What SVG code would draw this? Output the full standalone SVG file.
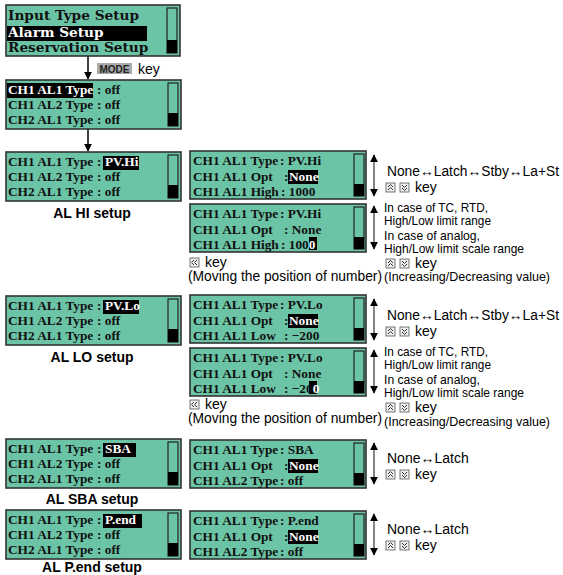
<svg xmlns="http://www.w3.org/2000/svg" width="563" height="575" viewBox="0 0 563 575">
<style>
.box{fill:#6cc4a7;stroke:#333;stroke-width:1.6}
.sb{fill:#6cc4a7;stroke:#222;stroke-width:1.2}
.sbk{fill:#000}
.lcd{font-family:"Liberation Serif",serif;font-weight:bold;font-size:13.3px;fill:#111}
.lcdt{font-family:"DejaVu Serif",serif;font-weight:bold;font-size:13.7px;fill:#111}
.hl{fill:#000}
.w{fill:#fff}
.lbl{font-family:"Liberation Sans",Arial,sans-serif;font-weight:bold;font-size:14px;fill:#000;text-anchor:middle}
.ann{font-family:"Liberation Sans",Arial,sans-serif;font-size:14px;fill:#000}
.ann2{font-family:"Liberation Sans",Arial,sans-serif;font-size:13.5px;fill:#000}
.conn{stroke:#000;stroke-width:1.5;fill:none}
.va{stroke:#666;stroke-width:1.6}
.ico{fill:#eee;stroke:#555;stroke-width:0.8}
.chev{fill:none;stroke:#333;stroke-width:1}
</style>
<defs>
<marker id="ah" viewBox="0 0 10 10" refX="9" refY="5" markerWidth="8" markerHeight="8" markerUnits="userSpaceOnUse" orient="auto">
<path d="M0,0 L10,5 L0,10 z" fill="#000"/>
</marker>
<marker id="vh" viewBox="0 0 10 10" refX="9" refY="5" markerWidth="8" markerHeight="9" markerUnits="userSpaceOnUse" orient="auto-start-reverse">
<path d="M0,0 L10,5 L0,10 z" fill="#000"/>
</marker>
<g id="up">
<rect class="ico" x="0" y="0" width="9" height="9"/>
<polyline class="chev" points="2,4 4.5,1.5 7,4"/>
<polyline class="chev" points="2,7 4.5,4.5 7,7"/>
</g>
<g id="dn">
<rect class="ico" x="0" y="0" width="9" height="9"/>
<polyline class="chev" points="2,2 4.5,4.5 7,2"/>
<polyline class="chev" points="2,5 4.5,7.5 7,5"/>
</g>
<g id="lf">
<rect class="ico" x="0" y="0" width="9" height="9"/>
<polyline class="chev" points="4,2 1.5,4.5 4,7"/>
<polyline class="chev" points="7,2 4.5,4.5 7,7"/>
</g>
</defs>

<g id="connectors">
<line class="conn" x1="88" y1="56" x2="88" y2="79" marker-end="url(#ah)"/>
<line class="conn" x1="88" y1="129" x2="88" y2="151" marker-end="url(#ah)"/>
</g>

<g id="menu-box">
<rect class="box" x="6" y="5" width="174" height="51"/>
<rect class="hl" x="7" y="26" width="140" height="15"/>
<rect class="sb" x="167" y="8" width="10" height="45"/>
<rect class="sbk" x="167" y="40" width="10" height="13"/>
<text class="lcdt" x="8" y="20">Input Type Setup</text>
<text class="lcdt w" x="8" y="37">Alarm Setup</text>
<text class="lcdt" x="8" y="52">Reservation Setup</text>
</g>

<g id="mode-key">
<rect x="97" y="63" width="35" height="11" fill="#aaa"/>
<text x="114.5" y="72.5" text-anchor="middle" font-family="Liberation Sans,Arial,sans-serif" font-weight="bold" font-size="10" fill="#222">MODE</text>
<text class="ann" x="138" y="74">key</text>
</g>

<g id="type-box">
<rect class="box" x="6" y="80" width="175" height="49"/>
<rect class="hl" x="7" y="83" width="86" height="15"/>
<rect class="sb" x="168" y="83" width="10" height="43"/>
<rect class="sbk" x="168" y="113" width="10" height="13"/>
<text class="lcd" x="8" y="94"><tspan class="w">CH1 AL1 Type</tspan><tspan x="97">: off</tspan></text>
<text class="lcd" x="8" y="109">CH1 AL2 Type<tspan x="97">: off</tspan></text>
<text class="lcd" x="8" y="124">CH2 AL1 Type<tspan x="97">: off</tspan></text>
</g>

<!-- AL HI -->
<g id="hi-box">
<rect class="box" x="6" y="152" width="175" height="49"/>
<rect class="hl" x="103" y="156" width="36" height="14"/>
<rect class="sb" x="168" y="155" width="10" height="43"/>
<rect class="sbk" x="168" y="185" width="10" height="13"/>
<text class="lcd" x="8" y="166">CH1 AL1 Type<tspan x="97">:</tspan><tspan class="w" x="105">PV.Hi</tspan></text>
<text class="lcd" x="8" y="181">CH1 AL2 Type<tspan x="97">: off</tspan></text>
<text class="lcd" x="8" y="196">CH2 AL1 Type<tspan x="97">: off</tspan></text>
<text class="lbl" x="92" y="218">AL HI setup</text>
</g>
<g id="hi-opt">
<rect class="box" x="190" y="151" width="176" height="48"/>
<rect class="hl" x="288" y="170" width="30" height="14"/>
<rect class="sb" x="354" y="154" width="10" height="42"/>
<rect class="sbk" x="354" y="184" width="10" height="12"/>
<text class="lcd" x="193" y="165">CH1 AL1 Type<tspan x="280">: PV.Hi</tspan></text>
<text class="lcd" x="193" y="181">CH1 AL1 Opt<tspan x="284">:</tspan><tspan class="w" x="289">None</tspan></text>
<text class="lcd" x="193" y="196">CH1 AL1 High<tspan x="281">: 1000</tspan></text>
</g>
<g id="hi-val">
<rect class="box" x="190" y="204" width="176" height="48"/>
<rect class="hl" x="309" y="237" width="8" height="13"/>
<rect class="sb" x="354" y="207" width="10" height="42"/>
<rect class="sbk" x="354" y="237" width="10" height="12"/>
<text class="lcd" x="193" y="218">CH1 AL1 Type<tspan x="280">: PV.Hi</tspan></text>
<text class="lcd" x="193" y="234">CH1 AL1 Opt<tspan x="284">: None</tspan></text>
<text class="lcd" x="193" y="249">CH1 AL1 High<tspan x="281">: 100</tspan><tspan class="w">0</tspan></text>
</g>
<g id="hi-notes">
<line class="va" x1="374" y1="155" x2="374" y2="196" marker-start="url(#vh)" marker-end="url(#vh)"/>
<line class="va" x1="374" y1="206" x2="374" y2="249" marker-start="url(#vh)" marker-end="url(#vh)"/>
<text class="ann" x="387" y="176" textLength="172" lengthAdjust="spacingAndGlyphs">None↔Latch↔Stby↔La+St</text>
<use href="#up" x="386" y="183"/><use href="#dn" x="400" y="183"/>
<text class="ann" x="415" y="192">key</text>
<text class="ann2" x="384" y="212" textLength="104" lengthAdjust="spacingAndGlyphs">In case of TC, RTD,</text>
<text class="ann2" x="384" y="225" textLength="107" lengthAdjust="spacingAndGlyphs">High/Low limit range</text>
<text class="ann2" x="384" y="240" textLength="96" lengthAdjust="spacingAndGlyphs">In case of analog,</text>
<text class="ann2" x="384" y="253" textLength="140" lengthAdjust="spacingAndGlyphs">High/Low limit scale range</text>
<use href="#up" x="386" y="259"/><use href="#dn" x="400" y="259"/>
<text class="ann" x="415" y="268">key</text>
<text class="ann2" x="384" y="281" textLength="166" lengthAdjust="spacingAndGlyphs">(Increasing/Decreasing value)</text>
<use href="#lf" x="190" y="258"/>
<text class="ann" x="205" y="267">key</text>
<text class="ann" x="188" y="281" textLength="194" lengthAdjust="spacingAndGlyphs">(Moving the position of number)</text>
</g>

<!-- AL LO -->
<g id="lo-box">
<rect class="box" x="6" y="296" width="175" height="49"/>
<rect class="hl" x="103" y="300" width="36" height="14"/>
<rect class="sb" x="168" y="299" width="10" height="43"/>
<rect class="sbk" x="168" y="329" width="10" height="13"/>
<text class="lcd" x="8" y="310">CH1 AL1 Type<tspan x="97">:</tspan><tspan class="w" x="105">PV.Lo</tspan></text>
<text class="lcd" x="8" y="325">CH1 AL2 Type<tspan x="97">: off</tspan></text>
<text class="lcd" x="8" y="340">CH2 AL1 Type<tspan x="97">: off</tspan></text>
<text class="lbl" x="92" y="362">AL LO setup</text>
</g>
<g id="lo-opt">
<rect class="box" x="190" y="295" width="176" height="48"/>
<rect class="hl" x="288" y="314" width="30" height="14"/>
<rect class="sb" x="354" y="298" width="10" height="42"/>
<rect class="sbk" x="354" y="328" width="10" height="12"/>
<text class="lcd" x="193" y="309">CH1 AL1 Type<tspan x="280">: PV.Lo</tspan></text>
<text class="lcd" x="193" y="325">CH1 AL1 Opt<tspan x="284">:</tspan><tspan class="w" x="289">None</tspan></text>
<text class="lcd" x="193" y="340">CH1 AL1 Low<tspan x="284">: −200</tspan></text>
</g>
<g id="lo-val">
<rect class="box" x="190" y="348" width="176" height="48"/>
<rect class="hl" x="309" y="381" width="8" height="13"/>
<rect class="sb" x="354" y="351" width="10" height="42"/>
<rect class="sbk" x="354" y="381" width="10" height="12"/>
<text class="lcd" x="193" y="362">CH1 AL1 Type<tspan x="280">: PV.Lo</tspan></text>
<text class="lcd" x="193" y="378">CH1 AL1 Opt<tspan x="284">: None</tspan></text>
<text class="lcd" x="193" y="393">CH1 AL1 Low<tspan x="284">: −20</tspan><tspan class="w">0</tspan></text>
</g>
<g id="lo-notes">
<line class="va" x1="374" y1="299" x2="374" y2="340" marker-start="url(#vh)" marker-end="url(#vh)"/>
<line class="va" x1="374" y1="350" x2="374" y2="393" marker-start="url(#vh)" marker-end="url(#vh)"/>
<text class="ann" x="387" y="320" textLength="172" lengthAdjust="spacingAndGlyphs">None↔Latch↔Stby↔La+St</text>
<use href="#up" x="386" y="327"/><use href="#dn" x="400" y="327"/>
<text class="ann" x="415" y="336">key</text>
<text class="ann2" x="384" y="356" textLength="104" lengthAdjust="spacingAndGlyphs">In case of TC, RTD,</text>
<text class="ann2" x="384" y="369" textLength="107" lengthAdjust="spacingAndGlyphs">High/Low limit range</text>
<text class="ann2" x="384" y="384" textLength="96" lengthAdjust="spacingAndGlyphs">In case of analog,</text>
<text class="ann2" x="384" y="397" textLength="140" lengthAdjust="spacingAndGlyphs">High/Low limit scale range</text>
<use href="#up" x="386" y="403"/><use href="#dn" x="400" y="403"/>
<text class="ann" x="415" y="412">key</text>
<text class="ann2" x="384" y="426" textLength="166" lengthAdjust="spacingAndGlyphs">(Increasing/Decreasing value)</text>
<use href="#lf" x="190" y="400"/>
<text class="ann" x="205" y="409">key</text>
<text class="ann" x="188" y="423" textLength="194" lengthAdjust="spacingAndGlyphs">(Moving the position of number)</text>
</g>

<!-- AL SBA -->
<g id="sba-box">
<rect class="box" x="6" y="439" width="175" height="49"/>
<rect class="hl" x="103" y="443" width="33" height="14"/>
<rect class="sb" x="168" y="442" width="10" height="43"/>
<rect class="sbk" x="168" y="472" width="10" height="13"/>
<text class="lcd" x="8" y="453">CH1 AL1 Type<tspan x="97">:</tspan><tspan class="w" x="105">SBA</tspan></text>
<text class="lcd" x="8" y="468">CH1 AL2 Type<tspan x="97">: off</tspan></text>
<text class="lcd" x="8" y="483">CH2 AL1 Type<tspan x="97">: off</tspan></text>
<text class="lbl" x="92" y="504">AL SBA setup</text>
</g>
<g id="sba-opt">
<rect class="box" x="190" y="440" width="176" height="48"/>
<rect class="hl" x="288" y="459" width="30" height="14"/>
<rect class="sb" x="354" y="443" width="10" height="42"/>
<rect class="sbk" x="354" y="473" width="10" height="12"/>
<text class="lcd" x="193" y="454">CH1 AL1 Type<tspan x="280">: SBA</tspan></text>
<text class="lcd" x="193" y="470">CH1 AL1 Opt<tspan x="284">:</tspan><tspan class="w" x="289">None</tspan></text>
<text class="lcd" x="193" y="485">CH1 AL2 Type<tspan x="280">: off</tspan></text>
</g>
<g id="sba-notes">
<line class="va" x1="374" y1="443" x2="374" y2="484" marker-start="url(#vh)" marker-end="url(#vh)"/>
<text class="ann" x="387" y="463">None↔Latch</text>
<use href="#up" x="386" y="470"/><use href="#dn" x="400" y="470"/>
<text class="ann" x="415" y="479">key</text>
</g>

<!-- AL P.end -->
<g id="pend-box">
<rect class="box" x="6" y="510" width="175" height="49"/>
<rect class="hl" x="103" y="514" width="39" height="14"/>
<rect class="sb" x="168" y="513" width="10" height="43"/>
<rect class="sbk" x="168" y="543" width="10" height="13"/>
<text class="lcd" x="8" y="524">CH1 AL1 Type<tspan x="97">:</tspan><tspan class="w" x="105">P.end</tspan></text>
<text class="lcd" x="8" y="539">CH1 AL2 Type<tspan x="97">: off</tspan></text>
<text class="lcd" x="8" y="554">CH2 AL1 Type<tspan x="97">: off</tspan></text>
<text class="lbl" x="92" y="572">AL P.end setup</text>
</g>
<g id="pend-opt">
<rect class="box" x="190" y="511" width="176" height="48"/>
<rect class="hl" x="288" y="530" width="30" height="14"/>
<rect class="sb" x="354" y="514" width="10" height="42"/>
<rect class="sbk" x="354" y="544" width="10" height="12"/>
<text class="lcd" x="193" y="525">CH1 AL1 Type<tspan x="280">: P.end</tspan></text>
<text class="lcd" x="193" y="541">CH1 AL1 Opt<tspan x="284">:</tspan><tspan class="w" x="289">None</tspan></text>
<text class="lcd" x="193" y="556">CH1 AL2 Type<tspan x="280">: off</tspan></text>
</g>
<g id="pend-notes">
<line class="va" x1="374" y1="514" x2="374" y2="555" marker-start="url(#vh)" marker-end="url(#vh)"/>
<text class="ann" x="387" y="534">None↔Latch</text>
<use href="#up" x="386" y="541"/><use href="#dn" x="400" y="541"/>
<text class="ann" x="415" y="550">key</text>
</g>
</svg>
